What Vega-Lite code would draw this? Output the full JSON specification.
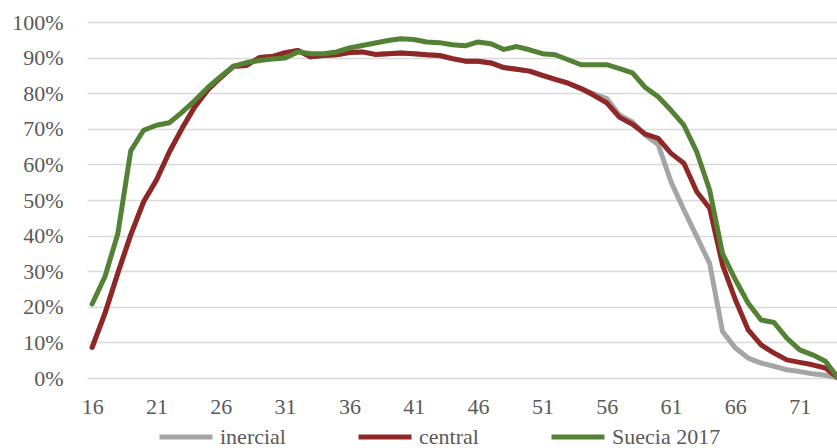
{
  "$schema": "https://vega.github.io/schema/vega-lite/v6.json",
  "width": 750,
  "height": 356,
  "autosize": {"type": "none"},
  "padding": {"left": 87, "top": 22, "right": 0, "bottom": 70},
  "background": "white",
  "config": {
    "view": {"stroke": null},
    "font": "Liberation Serif"
  },
  "data": {"values": [
    {"edad":16,"serie":"inercial","v":8.6},{"edad":16,"serie":"central","v":8.6},{"edad":16,"serie":"Suecia 2017","v":20.8},
    {"edad":17,"serie":"inercial","v":18.2},{"edad":17,"serie":"central","v":18.2},{"edad":17,"serie":"Suecia 2017","v":28.5},
    {"edad":18,"serie":"inercial","v":29.5},{"edad":18,"serie":"central","v":29.5},{"edad":18,"serie":"Suecia 2017","v":40.6},
    {"edad":19,"serie":"inercial","v":40.2},{"edad":19,"serie":"central","v":40.2},{"edad":19,"serie":"Suecia 2017","v":63.8},
    {"edad":20,"serie":"inercial","v":49.5},{"edad":20,"serie":"central","v":49.5},{"edad":20,"serie":"Suecia 2017","v":69.6},
    {"edad":21,"serie":"inercial","v":55.6},{"edad":21,"serie":"central","v":55.6},{"edad":21,"serie":"Suecia 2017","v":71.0},
    {"edad":22,"serie":"inercial","v":63.5},{"edad":22,"serie":"central","v":63.5},{"edad":22,"serie":"Suecia 2017","v":71.7},
    {"edad":23,"serie":"inercial","v":70.2},{"edad":23,"serie":"central","v":70.2},{"edad":23,"serie":"Suecia 2017","v":74.7},
    {"edad":24,"serie":"inercial","v":76.3},{"edad":24,"serie":"central","v":76.3},{"edad":24,"serie":"Suecia 2017","v":78.0},
    {"edad":25,"serie":"inercial","v":81.0},{"edad":25,"serie":"central","v":81.0},{"edad":25,"serie":"Suecia 2017","v":81.6},
    {"edad":26,"serie":"inercial","v":84.4},{"edad":26,"serie":"central","v":84.4},{"edad":26,"serie":"Suecia 2017","v":84.7},
    {"edad":27,"serie":"inercial","v":87.6},{"edad":27,"serie":"central","v":87.6},{"edad":27,"serie":"Suecia 2017","v":87.6},
    {"edad":28,"serie":"inercial","v":87.8},{"edad":28,"serie":"central","v":87.8},{"edad":28,"serie":"Suecia 2017","v":88.6},
    {"edad":29,"serie":"inercial","v":90.0},{"edad":29,"serie":"central","v":90.0},{"edad":29,"serie":"Suecia 2017","v":89.2},
    {"edad":30,"serie":"inercial","v":90.3},{"edad":30,"serie":"central","v":90.3},{"edad":30,"serie":"Suecia 2017","v":89.6},
    {"edad":31,"serie":"inercial","v":91.4},{"edad":31,"serie":"central","v":91.4},{"edad":31,"serie":"Suecia 2017","v":89.9},
    {"edad":32,"serie":"inercial","v":92.0},{"edad":32,"serie":"central","v":92.0},{"edad":32,"serie":"Suecia 2017","v":91.6},
    {"edad":33,"serie":"inercial","v":90.2},{"edad":33,"serie":"central","v":90.2},{"edad":33,"serie":"Suecia 2017","v":91.1},
    {"edad":34,"serie":"inercial","v":90.6},{"edad":34,"serie":"central","v":90.6},{"edad":34,"serie":"Suecia 2017","v":91.1},
    {"edad":35,"serie":"inercial","v":90.8},{"edad":35,"serie":"central","v":90.8},{"edad":35,"serie":"Suecia 2017","v":91.6},
    {"edad":36,"serie":"inercial","v":91.4},{"edad":36,"serie":"central","v":91.4},{"edad":36,"serie":"Suecia 2017","v":92.7},
    {"edad":37,"serie":"inercial","v":91.6},{"edad":37,"serie":"central","v":91.6},{"edad":37,"serie":"Suecia 2017","v":93.4},
    {"edad":38,"serie":"inercial","v":90.9},{"edad":38,"serie":"central","v":90.9},{"edad":38,"serie":"Suecia 2017","v":94.1},
    {"edad":39,"serie":"inercial","v":91.1},{"edad":39,"serie":"central","v":91.1},{"edad":39,"serie":"Suecia 2017","v":94.8},
    {"edad":40,"serie":"inercial","v":91.3},{"edad":40,"serie":"central","v":91.3},{"edad":40,"serie":"Suecia 2017","v":95.3},
    {"edad":41,"serie":"inercial","v":91.1},{"edad":41,"serie":"central","v":91.1},{"edad":41,"serie":"Suecia 2017","v":95.1},
    {"edad":42,"serie":"inercial","v":90.8},{"edad":42,"serie":"central","v":90.8},{"edad":42,"serie":"Suecia 2017","v":94.4},
    {"edad":43,"serie":"inercial","v":90.6},{"edad":43,"serie":"central","v":90.6},{"edad":43,"serie":"Suecia 2017","v":94.2},
    {"edad":44,"serie":"inercial","v":89.7},{"edad":44,"serie":"central","v":89.7},{"edad":44,"serie":"Suecia 2017","v":93.6},
    {"edad":45,"serie":"inercial","v":89.0},{"edad":45,"serie":"central","v":89.0},{"edad":45,"serie":"Suecia 2017","v":93.3},
    {"edad":46,"serie":"inercial","v":89.0},{"edad":46,"serie":"central","v":89.0},{"edad":46,"serie":"Suecia 2017","v":94.4},
    {"edad":47,"serie":"inercial","v":88.5},{"edad":47,"serie":"central","v":88.5},{"edad":47,"serie":"Suecia 2017","v":93.9},
    {"edad":48,"serie":"inercial","v":87.2},{"edad":48,"serie":"central","v":87.2},{"edad":48,"serie":"Suecia 2017","v":92.3},
    {"edad":49,"serie":"inercial","v":86.7},{"edad":49,"serie":"central","v":86.7},{"edad":49,"serie":"Suecia 2017","v":93.1},
    {"edad":50,"serie":"inercial","v":86.2},{"edad":50,"serie":"central","v":86.2},{"edad":50,"serie":"Suecia 2017","v":92.2},
    {"edad":51,"serie":"inercial","v":85.0},{"edad":51,"serie":"central","v":85.0},{"edad":51,"serie":"Suecia 2017","v":91.1},
    {"edad":52,"serie":"inercial","v":83.9},{"edad":52,"serie":"central","v":83.9},{"edad":52,"serie":"Suecia 2017","v":90.8},
    {"edad":53,"serie":"inercial","v":82.8},{"edad":53,"serie":"central","v":82.8},{"edad":53,"serie":"Suecia 2017","v":89.4},
    {"edad":54,"serie":"inercial","v":81.3},{"edad":54,"serie":"central","v":81.3},{"edad":54,"serie":"Suecia 2017","v":88.0},
    {"edad":55,"serie":"inercial","v":79.8},{"edad":55,"serie":"central","v":79.4},{"edad":55,"serie":"Suecia 2017","v":88.0},
    {"edad":56,"serie":"inercial","v":78.5},{"edad":56,"serie":"central","v":77.3},{"edad":56,"serie":"Suecia 2017","v":88.0},
    {"edad":57,"serie":"inercial","v":73.8},{"edad":57,"serie":"central","v":73.2},{"edad":57,"serie":"Suecia 2017","v":86.9},
    {"edad":58,"serie":"inercial","v":71.9},{"edad":58,"serie":"central","v":71.3},{"edad":58,"serie":"Suecia 2017","v":85.7},
    {"edad":59,"serie":"inercial","v":68.2},{"edad":59,"serie":"central","v":68.5},{"edad":59,"serie":"Suecia 2017","v":81.6},
    {"edad":60,"serie":"inercial","v":65.6},{"edad":60,"serie":"central","v":67.3},{"edad":60,"serie":"Suecia 2017","v":79.0},
    {"edad":61,"serie":"inercial","v":55.1},{"edad":61,"serie":"central","v":63.1},{"edad":61,"serie":"Suecia 2017","v":75.2},
    {"edad":62,"serie":"inercial","v":47.2},{"edad":62,"serie":"central","v":60.3},{"edad":62,"serie":"Suecia 2017","v":71.0},
    {"edad":63,"serie":"inercial","v":39.7},{"edad":63,"serie":"central","v":52.3},{"edad":63,"serie":"Suecia 2017","v":63.5},
    {"edad":64,"serie":"inercial","v":32.2},{"edad":64,"serie":"central","v":47.7},{"edad":64,"serie":"Suecia 2017","v":52.8},
    {"edad":65,"serie":"inercial","v":13.1},{"edad":65,"serie":"central","v":31.8},{"edad":65,"serie":"Suecia 2017","v":35.0},
    {"edad":66,"serie":"inercial","v":8.4},{"edad":66,"serie":"central","v":22.0},{"edad":66,"serie":"Suecia 2017","v":27.6},
    {"edad":67,"serie":"inercial","v":5.6},{"edad":67,"serie":"central","v":13.5},{"edad":67,"serie":"Suecia 2017","v":21.0},
    {"edad":68,"serie":"inercial","v":4.2},{"edad":68,"serie":"central","v":9.3},{"edad":68,"serie":"Suecia 2017","v":16.3},
    {"edad":69,"serie":"inercial","v":3.3},{"edad":69,"serie":"central","v":7.0},{"edad":69,"serie":"Suecia 2017","v":15.6},
    {"edad":70,"serie":"inercial","v":2.3},{"edad":70,"serie":"central","v":5.1},{"edad":70,"serie":"Suecia 2017","v":11.2},
    {"edad":71,"serie":"inercial","v":1.8},{"edad":71,"serie":"central","v":4.4},{"edad":71,"serie":"Suecia 2017","v":7.9},
    {"edad":72,"serie":"inercial","v":1.2},{"edad":72,"serie":"central","v":3.7},{"edad":72,"serie":"Suecia 2017","v":6.5},
    {"edad":73,"serie":"inercial","v":0.8},{"edad":73,"serie":"central","v":2.8},{"edad":73,"serie":"Suecia 2017","v":4.7},
    {"edad":74,"serie":"inercial","v":0},{"edad":74,"serie":"central","v":0},{"edad":74,"serie":"Suecia 2017","v":0}
  ]},
  "mark": {"type": "line", "strokeWidth": 5, "strokeJoin": "round", "strokeCap": "round", "clip": false},
  "encoding": {
    "x": {
      "field": "edad", "type": "quantitative",
      "scale": {"domain": [15.6, 73.9], "nice": false, "zero": false},
      "axis": {
        "title": null, "grid": false, "domain": false, "ticks": false, "tickSize": 0,
        "values": [16, 21, 26, 31, 36, 41, 46, 51, 56, 61, 66, 71],
        "labelFont": "Liberation Serif", "labelFontSize": 22, "labelColor": "#595959",
        "labelPadding": 18, "labelFlush": false, "labelOverlap": false
      }
    },
    "y": {
      "field": "v", "type": "quantitative",
      "scale": {"domain": [0, 100], "nice": false},
      "axis": {
        "title": null, "domain": false, "ticks": false, "tickSize": 0,
        "values": [0, 10, 20, 30, 40, 50, 60, 70, 80, 90, 100],
        "labelExpr": "datum.value + '%'",
        "labelFont": "Liberation Serif", "labelFontSize": 22, "labelColor": "#595959",
        "labelPadding": 24, "labelFlush": false, "labelOverlap": false,
        "grid": true, "gridColor": "#d9d9d9", "gridWidth": 1.5
      }
    },
    "color": {
      "field": "serie", "type": "nominal",
      "sort": ["inercial", "central", "Suecia 2017"],
      "scale": {"domain": ["inercial", "central", "Suecia 2017"], "range": ["#a5a5a5", "#8f2727", "#548235"]},
      "legend": {
        "title": null, "orient": "none", "direction": "horizontal",
        "legendX": 70, "legendY": 386,
        "symbolType": "stroke", "symbolSize": 2809, "symbolStrokeWidth": 5,
        "labelFont": "Liberation Serif", "labelFontSize": 22, "labelColor": "#595959",
        "labelOffset": 5, "columnPadding": 62, "padding": 0
      }
    }
  }
}
